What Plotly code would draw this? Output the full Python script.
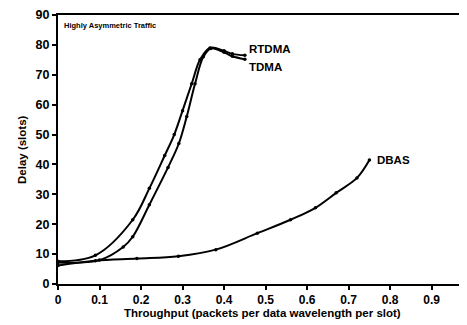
import plotly.graph_objects as go

rtdma_x = [0, 0.09, 0.18, 0.22, 0.257, 0.28, 0.30, 0.322, 0.342, 0.366, 0.40, 0.42, 0.45]
rtdma_y = [7.6, 9.6, 21.5, 32, 43, 50, 58, 67, 75, 79, 78, 77, 76.5]

tdma_x = [0, 0.10, 0.157, 0.18, 0.22, 0.265, 0.291, 0.31, 0.33, 0.35, 0.368, 0.40, 0.42, 0.45]
tdma_y = [7.2, 8.0, 12.4, 15.8, 26.5, 39, 47, 56, 67, 76, 78.8, 77.5, 76.2, 75.2]

dbas_x = [0, 0.09, 0.19, 0.29, 0.38, 0.48, 0.56, 0.62, 0.67, 0.72, 0.75]
dbas_y = [6.2, 7.8, 8.5, 9.3, 11.5, 17, 21.5, 25.5, 30.5, 35.5, 41.5]

x_ticks = [0, 0.1, 0.2, 0.3, 0.4, 0.5, 0.6, 0.7, 0.8, 0.9]
y_ticks = [0, 10, 20, 30, 40, 50, 60, 70, 80, 90]

FONT = "Liberation Sans, Arial, sans-serif"

# page has an 8px body margin: plot area spans page x 58..467, y 15..284
PW, PH = 409, 269

fig = go.Figure()
for name, xs, ys in [("RTDMA", rtdma_x, rtdma_y), ("TDMA", tdma_x, tdma_y), ("DBAS", dbas_x, dbas_y)]:
    fig.add_trace(go.Scatter(
        x=xs, y=ys, name=name, mode="lines+markers",
        line=dict(color="black", width=2, shape="spline", smoothing=1.0),
        marker=dict(color="black", size=3.5, symbol="circle"),
        showlegend=False,
    ))

# end labels
fig.add_annotation(x=rtdma_x[-1], y=rtdma_y[-1], text="<b>RTDMA</b>", showarrow=False,
                   xanchor="left", yanchor="middle", xshift=2, yshift=6,
                   font=dict(family=FONT, size=11.5, color="black"))
fig.add_annotation(x=tdma_x[-1], y=tdma_y[-1], text="<b>TDMA</b>", showarrow=False,
                   xanchor="left", yanchor="middle", xshift=2, yshift=-8,
                   font=dict(family=FONT, size=11.5, color="black"))
fig.add_annotation(x=dbas_x[-1], y=dbas_y[-1], text="<b>DBAS</b>", showarrow=False,
                   xanchor="left", yanchor="middle", xshift=6, yshift=0,
                   font=dict(family=FONT, size=11.5, color="black"))
fig.add_annotation(x=0.01, y=0.96, xref="paper", yref="paper", text="<b>Highly Asymmetric Traffic</b>",
                   showarrow=False, xanchor="left", yanchor="middle",
                   font=dict(family=FONT, size=7.5, color="black"))

# axis titles as paper annotations
fig.add_annotation(x=(262 - 58) / PW, y=-(313 - 284) / PH, xref="paper", yref="paper",
                   text="<b>Throughput (packets per data wavelength per slot)</b>", showarrow=False,
                   xanchor="center", yanchor="middle",
                   font=dict(family=FONT, size=11.5, color="black"))
fig.add_annotation(x=-(58 - 22) / PW, y=(284 - 150) / PH, xref="paper", yref="paper",
                   text="<b>Delay (slots)</b>", showarrow=False, textangle=-90,
                   xanchor="center", yanchor="middle",
                   font=dict(family=FONT, size=11.5, color="black"))

fig.update_xaxes(
    range=[0, 0.985], tickvals=x_ticks, ticktext=[("%g" % v) for v in x_ticks],
    showgrid=False, zeroline=False, showline=True, linecolor="black", linewidth=2,
    mirror=True, ticks="outside", ticklen=4, tickwidth=1.5, tickcolor="black",
    tickfont=dict(family=FONT, size=12, color="black", weight="bold"),
    automargin=False,
)
fig.update_yaxes(
    range=[0, 90], tickvals=y_ticks,
    showgrid=False, zeroline=False, showline=True, linecolor="black", linewidth=2,
    ticks="outside", ticklen=4, tickwidth=1.5, tickcolor="black",
    tickfont=dict(family=FONT, size=12.5, color="black", weight="bold"),
    automargin=False,
)

fig.update_layout(
    width=459, height=317,
    margin=dict(l=50, r=0, t=7, b=41),
    paper_bgcolor="white", plot_bgcolor="white",
)

fig.write_html("out.html")
